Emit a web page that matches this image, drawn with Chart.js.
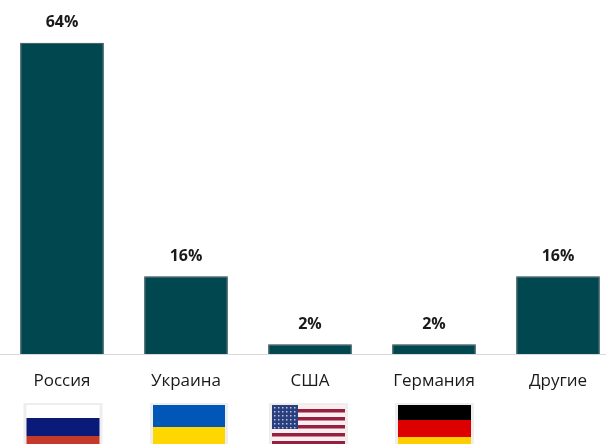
<!DOCTYPE html>
<html><head><meta charset="utf-8">
<style>html,body{margin:0;padding:0;background:#fff;width:606px;height:444px;overflow:hidden}#w{width:620px;height:444px}canvas{filter:blur(0.4px)}</style>
<script src="https://cdn.jsdelivr.net/npm/chart.js@4"></script></head>
<body><div id="w"><canvas id="c" width="620" height="444"></canvas></div>
<script>
const categories = ['Россия','Украина','США','Германия','Другие'];
const shares = [64,16,2,2,16];
const russiaStripes = ['#ffffff','#0a1a78','#c4392a'];
const ukraineStripes = ['#0057b8','#ffd700'];
const germanyStripes = ['#000000','#dd0000','#ffce00'];

const labelPlugin = {id:'labels',afterDatasetsDraw(ch){
  const c=ch.ctx, m=ch.getDatasetMeta(0);
  c.save();c.font='bold 16px "Open Sans", sans-serif';c.fillStyle='#1a1a1a';c.textAlign='center';c.textBaseline='middle';
  m.data.forEach((b,i)=>c.fillText(shares[i]+'%',b.x,b.y-20));
  c.restore();
}};
function frame(c,x,w){c.fillStyle='#eeeeee';c.fillRect(x-w/2-3,403,w+6,41);}
function stripes(c,x,w,cols,hs){frame(c,x,w);let y=405;cols.forEach((col,i)=>{c.fillStyle=col;c.fillRect(x-w/2,y,w,hs[i]);y+=hs[i];});}
const flagPlugin = {id:'flags',afterDraw(ch){
  const c=ch.ctx,s=ch.scales.x;c.save();
  stripes(c,s.getPixelForValue(0)+1,73,russiaStripes,[13,18,8]);
  stripes(c,s.getPixelForValue(1)+3,72,ukraineStripes,[22,17]);
  const ux=s.getPixelForValue(2)-1.5;frame(c,ux,73);
  const l=ux-36.5;
  c.fillStyle='#fbeef0';c.fillRect(l,405,73,39);
  c.fillStyle='#96203f';for(let k=0;k<5;k++){c.fillRect(l,409+k*8,73,Math.min(3.5,35-k*8));}
  c.fillStyle='#2a3f7d';c.fillRect(l,405,26,24);
  c.fillStyle='#b9c3dd';for(let r=0;r<6;r++)for(let q=0;q<6;q++){c.fillRect(l+2+q*4,407+r*4,1.5,1.5);}
  stripes(c,s.getPixelForValue(3)+0.5,73,germanyStripes,[15,17,7]);
  c.restore();
}};
new Chart(document.getElementById('c'),{
  type:'bar',
  data:{labels:categories,datasets:[{data:shares,backgroundColor:'#00474f',borderColor:'#2d3f43',borderWidth:1,categoryPercentage:1,barPercentage:0.675}]},
  options:{responsive:false,animation:false,
    layout:{padding:0},
    plugins:{legend:{display:false},tooltip:{enabled:false}},
    scales:{
      x:{afterFit(a){a.height=90;},grid:{display:false,drawTicks:false},border:{color:'#d9d9d9',width:1},
         ticks:{color:'#1a1a1a',padding:17,maxRotation:0,font:{size:17,family:'"Open Sans", sans-serif'}}},
      y:{display:false,min:0,max:72.8}
    }},
  plugins:[labelPlugin,flagPlugin]
});
</script></body></html>
